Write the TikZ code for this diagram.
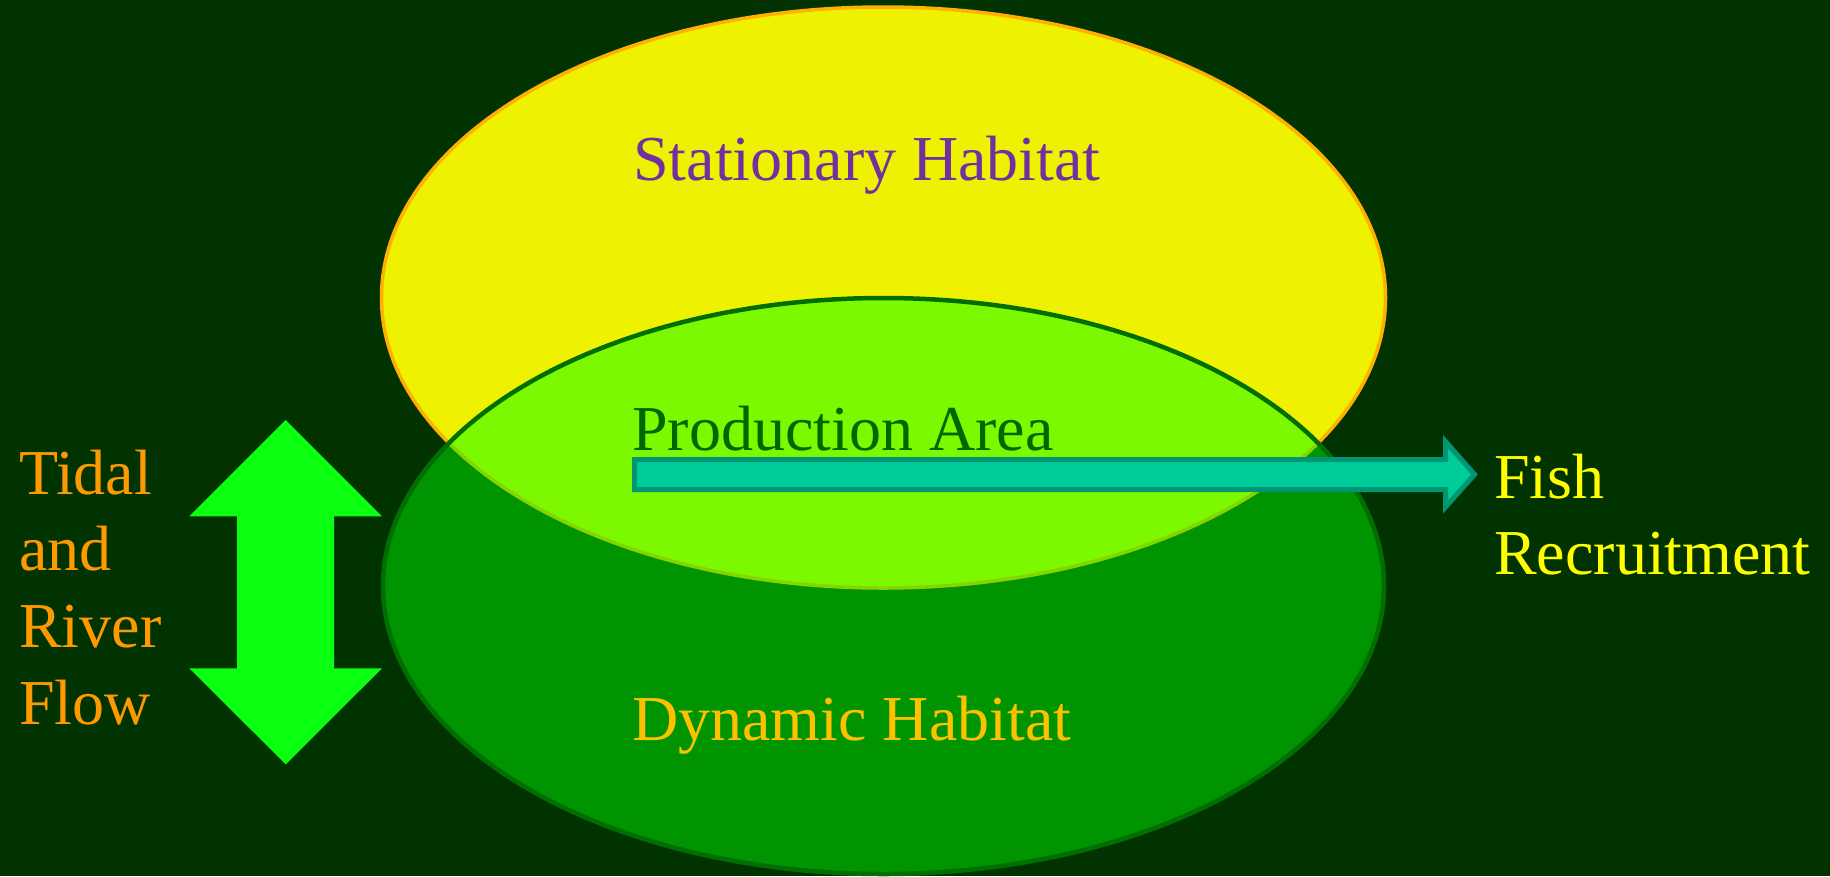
\documentclass[tikz,border=0pt]{standalone}
\usepackage{fontspec}
\setmainfont{Liberation Serif}
\definecolor{bg}{RGB}{0,51,0}
\definecolor{topfill}{RGB}{238,242,0}
\definecolor{topline}{RGB}{255,176,0}
\definecolor{botline}{RGB}{0,110,0}
\definecolor{flowgreen}{RGB}{10,255,16}
\definecolor{tealfill}{RGB}{0,204,153}
\definecolor{tealline}{RGB}{0,150,115}
\definecolor{lblorange}{RGB}{255,153,0}
\definecolor{lblpurple}{RGB}{112,48,160}
\definecolor{lbldkgreen}{RGB}{0,102,0}
\definecolor{lblgold}{RGB}{255,192,0}
\definecolor{lblyellow}{RGB}{255,255,0}
\tikzset{
  lbl/.style={anchor=base west, inner sep=0pt, font=\fontsize{64}{76.6}\selectfont},
}
\begin{document}
\begin{tikzpicture}[x=1pt,y=-1pt]
\useasboundingbox (0,0) rectangle (1830,876);
\fill[bg] (0,0) rectangle (1830,876);
% top ellipse (stationary habitat)
\coordinate (topc) at (883.5,297.5);
\coordinate (botc) at (883.5,586);
\draw[topline, fill=topfill, line width=3.5pt] (topc) ellipse [x radius=502pt, y radius=290.5pt];
% bottom ellipse (dynamic habitat), translucent green
\fill[green, opacity=0.48] (botc) ellipse [x radius=500.5pt, y radius=288pt];
\draw[botline, line width=4.5pt] (botc) ellipse [x radius=500.5pt, y radius=288pt];
% double arrow
\fill[flowgreen] (285.7,420) -- (382,516.3) -- (334,516.3) -- (334,668.3) -- (382,668.3)
  -- (285.7,764.3) -- (189.3,668.3) -- (237,668.3) -- (237,516.3) -- (189.3,516.3) -- cycle;
% teal arrow
\draw[tealline, fill=tealfill, line width=5pt, line join=miter]
  (634.5,459.5) -- (1445.5,459.5) -- (1445.5,441.5) -- (1474.5,474.5) -- (1445.5,507)
  -- (1445.5,489.5) -- (634.5,489.5) -- cycle;
% labels
\node[lbl, text=lblpurple] (stat) at (633,180) {Stationary Habitat};
\node[lbl, text=lbldkgreen] (prod) at (632,450) {Production Area};
\node[lbl, text=lblgold] (dyn) at (632,740) {Dynamic Habitat};
\node[lbl, text=lblorange] (t1) at (19,494.3) {Tidal};
\node[lbl, text=lblorange] (t2) at (19,570.7) {and};
\node[lbl, text=lblorange] (t3) at (19,647.3) {River};
\node[lbl, text=lblorange] (t4) at (19,724) {Flow};
\node[lbl, text=lblyellow] (f1) at (1494,498.3) {Fish};
\node[lbl, text=lblyellow] (f2) at (1494,574) {Recruitment};
\end{tikzpicture}
\end{document}
